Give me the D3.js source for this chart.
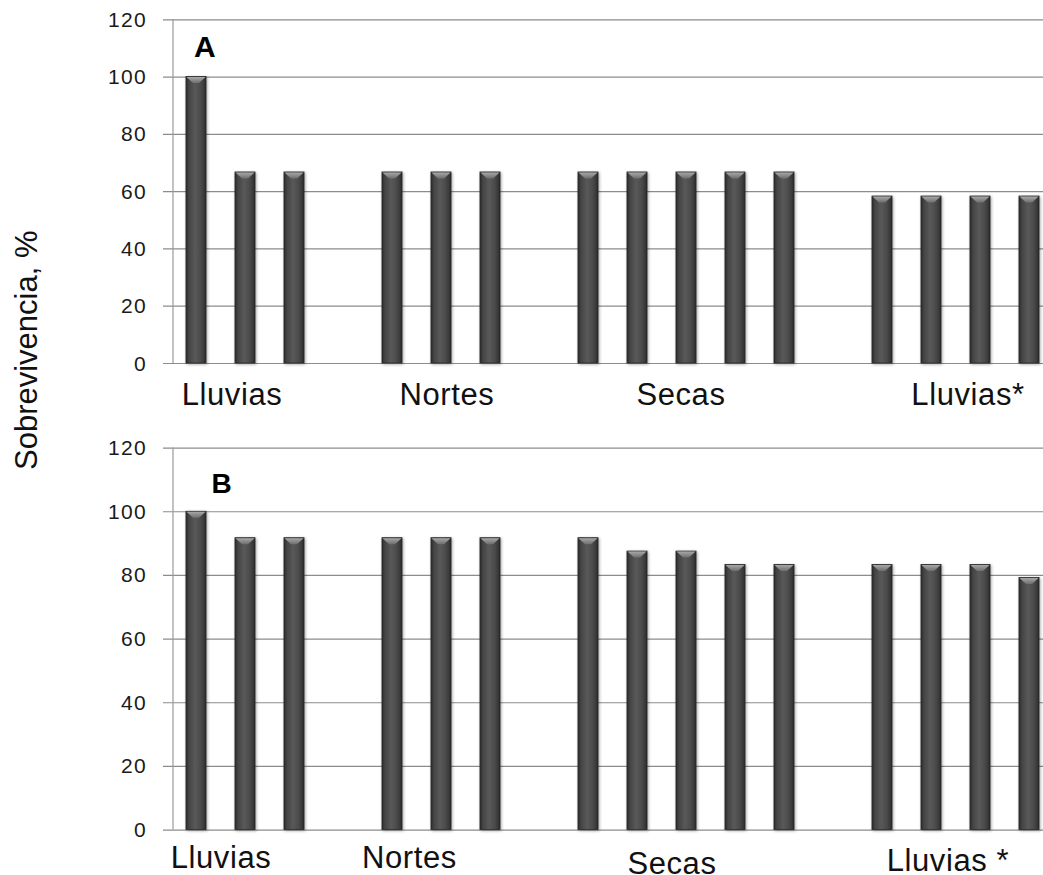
<!DOCTYPE html>
<html>
<head>
<meta charset="utf-8">
<script src="https://cdn.jsdelivr.net/npm/d3@7"></script>
<style>
  html, body { margin: 0; padding: 0; background: #ffffff; overflow: hidden; }
  svg { display: block; font-family: "Liberation Sans", Arial, sans-serif; }
</style>
</head>
<body>
<svg id="chart" width="1043" height="875"></svg>
<script>
// ---- data ----
const seasonsA = ["Lluvias", "Nortes", "Secas", "Lluvias*"];
const seasonsB = ["Lluvias", "Nortes", "Secas", "Lluvias *"];
const survivalA = [
  [100, 66.7, 66.7],
  [66.7, 66.7, 66.7],
  [66.7, 66.7, 66.7, 66.7, 66.7],
  [58.3, 58.3, 58.3, 58.3]
];
const survivalB = [
  [100, 91.7, 91.7],
  [91.7, 91.7, 91.7],
  [91.7, 87.5, 87.5, 83.3, 83.3],
  [83.3, 83.3, 83.3, 79.2]
];
const yTicks = [0, 20, 40, 60, 80, 100, 120];
const panelLetters = ["A", "B"];
const yTitle = "Sobrevivencia, %";

// ---- layout ----
const svg = d3.select("#chart");
const axisX = 173;
const slotW = 49;
const panels = [
  { seasons: seasonsA, values: survivalA, top: 19.3, bottom: 363, letter: panelLetters[0],
    letterPos: [194, 57], letterSize: 30, labelBase: 405,
    labelShift: [-13, 6, -5, 12.5] },
  { seasons: seasonsB, values: survivalB, top: 447.6, bottom: 829.6, letter: panelLetters[1],
    letterPos: [211.5, 493], letterSize: 28, labelBase: [868, 868, 874, 871],
    labelShift: [-24, -31.5, -14, -7.5] }
];

// slot keys: bars of each season with one empty slot between seasons
function slotKeys(values) {
  const keys = [];
  values.forEach((g, gi) => {
    g.forEach((v, i) => keys.push(gi + "-" + i));
    if (gi < values.length - 1) keys.push("gap" + gi);
  });
  return keys;
}

// defs: gradients and shadow
const defs = svg.append("defs");
const grad = defs.append("linearGradient").attr("id", "barGrad")
  .attr("x1", "0%").attr("x2", "100%").attr("y1", "0%").attr("y2", "0%");
[["0%", "#2b2b2b"], ["15%", "#444"], ["45%", "#595959"], ["70%", "#4d4d4d"], ["90%", "#3a3a3a"], ["100%", "#262626"]]
  .forEach(([o, c]) => grad.append("stop").attr("offset", o).attr("stop-color", c));
const capGrad = defs.append("linearGradient").attr("id", "capGrad")
  .attr("x1", "0%").attr("x2", "0%").attr("y1", "0%").attr("y2", "100%");
[["0%", "#a8a8a8"], ["100%", "#6e6e6e"]]
  .forEach(([o, c]) => capGrad.append("stop").attr("offset", o).attr("stop-color", c));
const shadow = defs.append("filter").attr("id", "shadow")
  .attr("x", "-50%").attr("y", "-10%").attr("width", "200%").attr("height", "120%");
shadow.append("feDropShadow").attr("dx", 1).attr("dy", 1).attr("stdDeviation", 1.6)
  .attr("flood-color", "#000").attr("flood-opacity", 0.35);

panels.forEach(p => {
  const keys = slotKeys(p.values);
  const x = d3.scaleBand().domain(keys)
    .range([axisX - 1.5, axisX - 1.5 + keys.length * slotW])
    .paddingInner(0.59).paddingOuter(0.295);
  const y = d3.scaleLinear().domain([0, 120]).range([p.bottom, p.top]);
  const g = svg.append("g");

  // gridlines via axis
  const yAxis = d3.axisLeft(y).tickValues(yTicks).tickSize(-(1043 - axisX + 10)).tickFormat("");
  const ag = g.append("g").attr("transform", `translate(${axisX},0)`).call(yAxis);
  ag.select(".domain").remove();
  ag.selectAll(".tick line").attr("x1", -10).attr("x2", 1043 - axisX)
    .attr("stroke", "#8c8c8c").attr("stroke-width", 1.2);
  ag.selectAll(".tick text").remove();

  // tick labels
  g.append("g").selectAll("text.ylab").data(yTicks).join("text")
    .attr("class", "ylab")
    .attr("x", axisX - 26).attr("y", d => y(d)).attr("dy", "0.36em")
    .attr("text-anchor", "end").attr("font-size", 21).attr("letter-spacing", 1.3)
    .attr("fill", "#1a1a1a").text(d => d);

  // vertical axis line
  g.append("line").attr("x1", axisX).attr("x2", axisX)
    .attr("y1", y(120)).attr("y2", y(0)).attr("stroke", "#9a9a9a").attr("stroke-width", 1.2);

  // bars
  const barData = [];
  p.values.forEach((grp, gi) => grp.forEach((v, i) => barData.push({ key: gi + "-" + i, v })));
  const bw = x.bandwidth();
  const bars = g.append("g").selectAll("g.bar").data(barData).join("g").attr("class", "bar");
  bars.append("rect")
    .attr("x", d => x(d.key)).attr("y", d => y(d.v))
    .attr("width", bw).attr("height", d => y(0) - y(d.v))
    .attr("fill", "url(#barGrad)").attr("stroke", "#2a2a2a").attr("stroke-width", 0.8)
    .attr("filter", "url(#shadow)");
  bars.append("path")
    .attr("d", d => {
      const x0 = x(d.key), y0 = y(d.v);
      return `M${x0 + 0.5},${y0 + 0.5} L${x0 + bw - 0.5},${y0 + 0.5} L${x0 + bw / 2 + 3},${y0 + 6.5} L${x0 + bw / 2 - 3},${y0 + 6.5} Z`;
    })
    .attr("fill", "url(#capGrad)");

  // season labels
  p.seasons.forEach((s, gi) => {
    const k0 = gi + "-0", k1 = gi + "-" + (p.values[gi].length - 1);
    const cx = (x(k0) + x(k1) + bw) / 2 + p.labelShift[gi];
    const base = Array.isArray(p.labelBase) ? p.labelBase[gi] : p.labelBase;
    g.append("text").attr("x", cx).attr("y", base).attr("text-anchor", "middle")
      .attr("font-size", 31).attr("letter-spacing", 0.6).attr("fill", "#111").text(s);
  });

  // panel letter
  g.append("text").attr("x", p.letterPos[0]).attr("y", p.letterPos[1])
    .attr("font-size", p.letterSize).attr("font-weight", "bold").attr("fill", "#000").text(p.letter);
});

// y-axis title
svg.append("text").attr("transform", "translate(37,470) rotate(-90)")
  .attr("text-anchor", "start").attr("font-size", 31).attr("fill", "#111").text(yTitle);
</script>
</body>
</html>
